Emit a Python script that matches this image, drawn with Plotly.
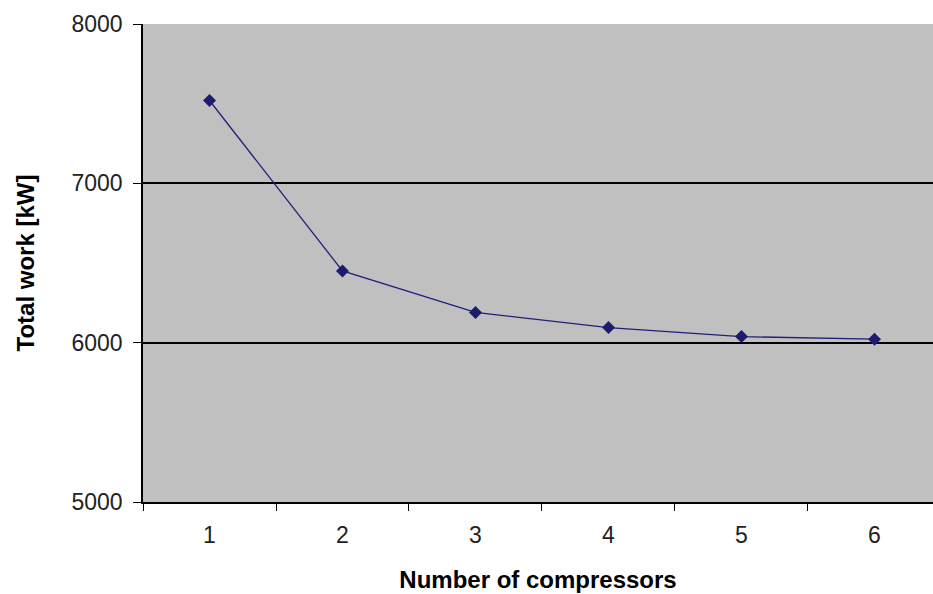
import plotly.graph_objects as go

# Number of compressors vs. total compression work
compressors = ["1", "2", "3", "4", "5", "6"]
total_work_kw = [7520, 6450, 6190, 6095, 6038, 6022]

fig = go.Figure()
fig.add_trace(go.Scatter(
    x=compressors,
    y=total_work_kw,
    mode="lines+markers",
    line=dict(color="#20207a", width=1.3),
    marker=dict(symbol="diamond", size=10, color="#1c1c6e"),
    showlegend=False,
))

font_family = "Liberation Sans, Arial, sans-serif"

fig.update_layout(
    width=933,
    height=594,
    margin=dict(l=143, r=0, t=24, b=92),
    paper_bgcolor="white",
    plot_bgcolor="#c0c0c0",
    font=dict(family=font_family, color="black", size=23),
    xaxis=dict(
        type="category",
        range=[-0.5, 5.44],
        tickson="boundaries",
        ticks="outside",
        ticklen=7,
        tickwidth=1,
        tickcolor="black",
        showline=True,
        linecolor="black",
        linewidth=1.5,
        showgrid=False,
        ticklabelstandoff=12,
        tickfont=dict(size=23, color="#222"),
        title=dict(text="<b>Number of compressors</b>",
                   font=dict(size=24, family=font_family), standoff=24),
    ),
    yaxis=dict(
        range=[5000, 8000],
        dtick=1000,
        ticks="outside",
        ticklen=8,
        tickwidth=1,
        tickcolor="black",
        showline=True,
        linecolor="black",
        linewidth=1.5,
        showgrid=True,
        gridcolor="black",
        gridwidth=1.5,
        zeroline=False,
        ticklabelstandoff=6,
        tickfont=dict(size=23, color="#222"),
        title=dict(text="<b>Total work [kW]</b>",
                   font=dict(size=24, family=font_family), standoff=30),
    ),
)

fig.write_html("out.html")
